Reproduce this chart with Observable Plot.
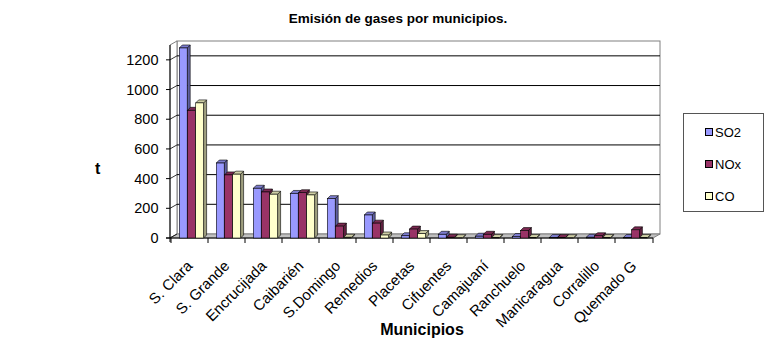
<!DOCTYPE html>
<html><head><meta charset="utf-8">
<script src="https://cdn.jsdelivr.net/npm/d3@7"></script>
<script src="https://cdn.jsdelivr.net/npm/@observablehq/plot@0.6"></script>
<style>
body{margin:0;background:#fff;font-family:"Liberation Sans",Arial,sans-serif;}
#wrap{position:relative;width:774px;height:351px;overflow:hidden;background:#fff}
#chart{position:absolute;left:0;top:0}
#title{position:absolute;left:0;width:796px;top:11px;text-align:center;font-weight:bold;font-size:13.5px;color:#000}
#ylab{position:absolute;left:95px;top:160px;font-weight:bold;font-size:16px}
#xlab{position:absolute;left:0;width:844px;top:321px;text-align:center;font-weight:bold;font-size:16px}
#legend{position:absolute;left:683px;top:113px;width:81px;height:99px;border:1px solid #555;box-sizing:border-box;font-size:13px}
#legend .it{position:absolute;left:21px;height:16px;line-height:16px;white-space:nowrap}
#legend .sw{display:inline-block;width:6px;height:6px;border:1px solid #000;margin-right:2px;vertical-align:1px}
svg [aria-label="x-axis tick label"]{font-size:15px}
svg [aria-label="y-axis tick label"]{font-size:14.5px}
</style></head><body>
<div id="wrap"><div id="chart"></div><div id="title">Emisión de gases por municipios.</div><div id="ylab">t</div><div id="xlab">Municipios</div><div id="legend"></div></div>
<script>
const municipios = ["S. Clara","S. Grande","Encrucijada","Caibarién","S.Domingo","Remedios","Placetas","Cifuentes","Camajuaní","Ranchuelo","Manicaragua","Corralillo","Quemado G"];
const gases = ["SO2","NOx","CO"];
const so2 = [1280, 505, 335, 300, 265, 155, 15, 25, 12, 10, 3, 5, 3];
const nox = [860, 425, 310, 305, 80, 100, 60, 5, 25, 50, 3, 15, 55];
const co  = [910, 430, 295, 290, 5, 20, 30, 2, 3, 3, 2, 3, 3];
const yTicks = [0, 200, 400, 600, 800, 1000, 1200];
const colors = ["#9999FF", "#993366", "#FFFFCC"];

const series = {SO2: so2, NOx: nox, CO: co};
const rows = gases.flatMap(g => municipios.map((m, i) => ({mun: m, gas: g, value: series[g][i]})));

const D = 3;           // bar depth (px)
const WX = 7, WY = -4; // wall depth offset (px)
const INSET = [[8.3, 20.8], [16.5, 12.6], [24.7, 4.4]];

function bar3d(gas, k) {
  const c = d3.color(colors[k]);
  const side = c.darker(1.3).formatHex();
  const top = c.darker(0.6).formatHex();
  const [L, R] = INSET[k];
  return Plot.barY(rows.filter(r => r.gas === gas), {
    x: "mun", y: "value", fill: colors[k], stroke: "#000", strokeWidth: 0.6,
    insetLeft: L, insetRight: R,
    render(index, scales, values, dimensions, context, next) {
      const g = next(index, scales, values, dimensions, context);
      const bw = scales.x.bandwidth();
      const X = values.x, Y1 = values.y1, Y2 = values.y2;
      const out = d3.create("svg:g");
      for (const i of index) {
        const xl = X[i] + L, xr = X[i] + bw - R;
        const yt = Math.min(Y1[i], Y2[i]), yb = Math.max(Y1[i], Y2[i]);
        out.append("polygon")
          .attr("points", [[xr, yt], [xr + D, yt - D], [xr + D, yb - D], [xr, yb]].join(" "))
          .attr("fill", side).attr("stroke", "#000").attr("stroke-width", 0.6);
        out.append("polygon")
          .attr("points", [[xl, yt], [xl + D, yt - D], [xr + D, yt - D], [xr, yt]].join(" "))
          .attr("fill", top).attr("stroke", "#000").attr("stroke-width", 0.6);
      }
      out.append(() => g);
      return out.node();
    }
  });
}

function walls(index, scales, values, dimensions) {
  const {width, marginLeft, marginRight, marginTop} = dimensions;
  const x0 = marginLeft, x1 = width - marginRight, y0 = scales.y(0), yT = marginTop;
  const g = d3.create("svg:g");
  const pts = a => a.join(" ");
  g.append("rect").attr("x", x0 + WX).attr("y", yT + WY).attr("width", x1 - x0).attr("height", y0 - yT)
    .attr("fill", "#fff").attr("stroke", "#808080");
  g.append("polygon").attr("points", pts([[x0, yT], [x0 + WX, yT + WY], [x0 + WX, y0 + WY], [x0, y0]]))
    .attr("fill", "#fff").attr("stroke", "#808080");
  g.append("polygon").attr("points", pts([[x0, y0], [x0 + WX, y0 + WY], [x1 + WX, y0 + WY], [x1, y0]]))
    .attr("fill", "#c0c0c0").attr("stroke", "#808080");
  for (const t of yTicks) {
    const y = scales.y(t);
    if (t > 0) g.append("line").attr("x1", x0 + WX).attr("x2", x1 + WX).attr("y1", y + WY).attr("y2", y + WY).attr("stroke", "#000");
    g.append("line").attr("x1", x0).attr("x2", x0 + WX).attr("y1", y).attr("y2", y + WY).attr("stroke", "#000").attr("stroke-width", 0.8);
    g.append("line").attr("x1", x0 - 4).attr("x2", x0).attr("y1", y).attr("y2", y).attr("stroke", "#000");
  }
  g.append("line").attr("x1", x0).attr("x2", x0).attr("y1", yT).attr("y2", y0 + 4).attr("stroke", "#000");
  g.append("line").attr("x1", x0 - 4).attr("x2", x1).attr("y1", y0).attr("y2", y0).attr("stroke", "#000");
  const edges = scales.x.domain().map(d => scales.x(d)).concat([x1]);
  for (const x of edges) g.append("line").attr("x1", x).attr("x2", x).attr("y1", y0).attr("y2", y0 + 5).attr("stroke", "#000");
  return g.node();
}

const chart = Plot.plot({
  width: 774, height: 351,
  marginLeft: 170, marginRight: 121, marginTop: 45, marginBottom: 113,
  style: {fontFamily: "'Liberation Sans', Arial, sans-serif", fontSize: "14px", background: "transparent", color: "#000"},
  x: {domain: municipios, padding: 0, tickSize: 0, tickRotate: -45, tickPadding: 25, label: null},
  y: {domain: [0, 1300], ticks: yTicks, tickFormat: "d", tickSize: 0, tickPadding: 12, label: null},
  marks: [
    walls,
    bar3d("SO2", 0),
    bar3d("NOx", 1),
    bar3d("CO", 2)
  ]
});
document.getElementById("chart").appendChild(chart);

const lg = document.getElementById("legend");
gases.forEach((g, k) => {
  const it = document.createElement("div");
  it.className = "it";
  it.style.top = (11 + k * 32) + "px";
  it.innerHTML = `<span class="sw" style="background:${colors[k]}"></span>${g}`;
  lg.appendChild(it);
});
</script>
</body></html>
